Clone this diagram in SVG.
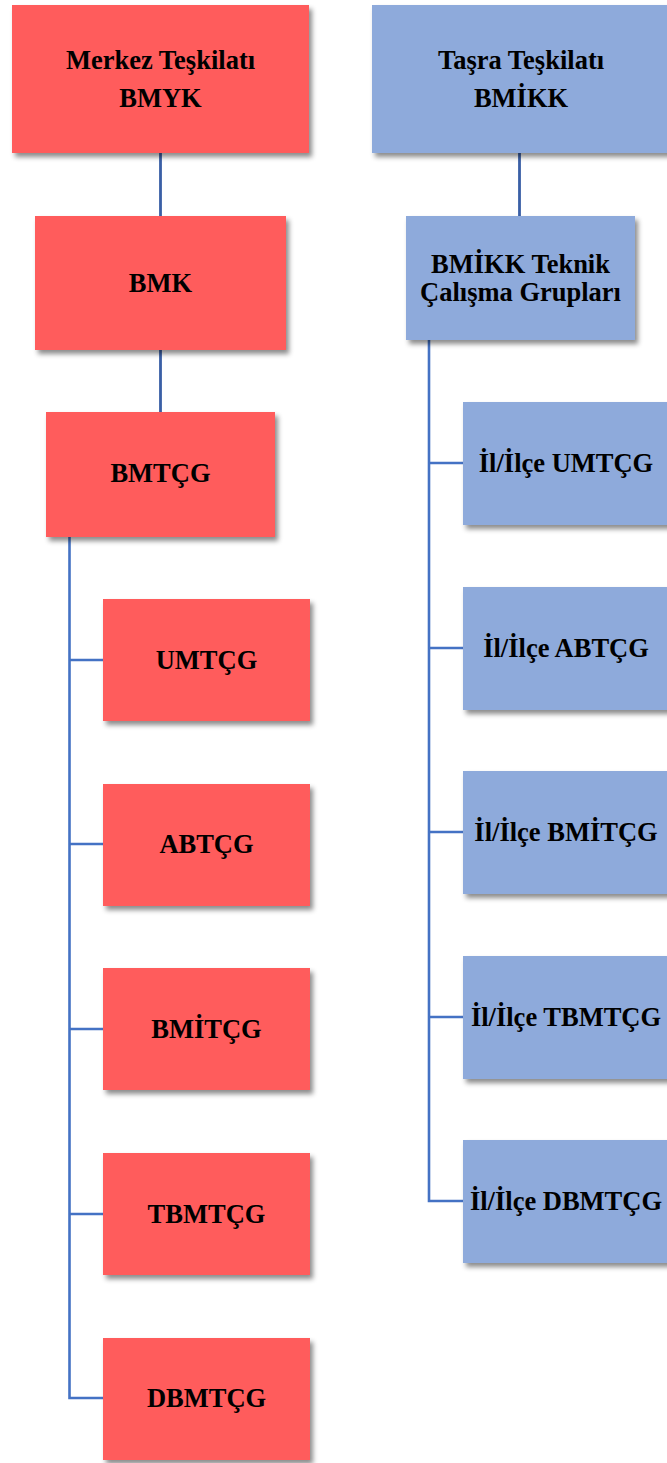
<svg xmlns="http://www.w3.org/2000/svg" width="667" height="1463" viewBox="0 0 667 1463">
<defs>
<filter id="sh" x="-10%" y="-10%" width="130%" height="130%">
<feDropShadow dx="3" dy="4" stdDeviation="2.5" flood-color="#000" flood-opacity="0.45"/>
</filter>
<style>
.r{fill:#FF5B5B;filter:url(#sh)}
.b{fill:#8EAADB;filter:url(#sh)}
text{font-family:"Liberation Serif","Times New Roman",serif;font-weight:bold;font-size:26.5px;fill:#000;text-anchor:middle}
.c{fill:none;stroke:#4472C4;stroke-width:2.6}
.d{fill:none;stroke:#3A5FA6;stroke-width:2.8}
</style>
</defs>
<rect width="667" height="1463" fill="#fff"/>
<g id="connectors">
<path class="d" d="M160.5 153V216M160.5 350V412M519.5 153V216"/>
<path class="c" d="M69.5 537V1398H103M69.5 660H103M69.5 844H103M69.5 1029H103M69.5 1214H103"/>
<path class="c" d="M429 340V1201H463M429 463H463M429 648H463M429 832H463M429 1017H463"/>
</g>
<g id="merkez"><rect class="r" x="12" y="5" width="297" height="148"/><text x="160.5" y="69">Merkez Teşkilatı</text><text x="160.5" y="107">BMYK</text></g>
<g id="tasra"><rect class="b" x="372" y="5" width="298" height="148"/><text x="521" y="69">Taşra Teşkilatı</text><text x="521" y="107">BMİKK</text></g>
<g id="bmk"><rect class="r" x="35" y="216" width="251" height="134"/><text x="160.5" y="292">BMK</text></g>
<g id="bmikk-teknik"><rect class="b" x="406" y="216" width="229" height="124"/><text x="520.5" y="273">BMİKK Teknik</text><text x="520.5" y="300.5">Çalışma Grupları</text></g>
<g id="bmtcg"><rect class="r" x="46" y="412" width="229" height="125"/><text x="160.5" y="482">BMTÇG</text></g>
<g id="umtcg"><rect class="r" x="103" y="599" width="207" height="122"/><text x="206.5" y="669">UMTÇG</text></g>
<g id="abtcg"><rect class="r" x="103" y="784" width="207" height="122"/><text x="206.5" y="853">ABTÇG</text></g>
<g id="bmitcg"><rect class="r" x="103" y="968" width="207" height="122"/><text x="206.5" y="1038">BMİTÇG</text></g>
<g id="tbmtcg"><rect class="r" x="103" y="1153" width="207" height="122"/><text x="206.5" y="1223">TBMTÇG</text></g>
<g id="dbmtcg"><rect class="r" x="103" y="1338" width="207" height="122"/><text x="206.5" y="1407">DBMTÇG</text></g>
<g id="il-umtcg"><rect class="b" x="463" y="402" width="207" height="123"/><text x="566" y="472">İl/İlçe UMTÇG</text></g>
<g id="il-abtcg"><rect class="b" x="463" y="587" width="207" height="123"/><text x="566" y="657">İl/İlçe ABTÇG</text></g>
<g id="il-bmitcg"><rect class="b" x="463" y="771" width="207" height="123"/><text x="566" y="841">İl/İlçe BMİTÇG</text></g>
<g id="il-tbmtcg"><rect class="b" x="463" y="956" width="207" height="123"/><text x="566" y="1026">İl/İlçe TBMTÇG</text></g>
<g id="il-dbmtcg"><rect class="b" x="463" y="1140" width="207" height="123"/><text x="566" y="1210">İl/İlçe DBMTÇG</text></g>
</svg>
